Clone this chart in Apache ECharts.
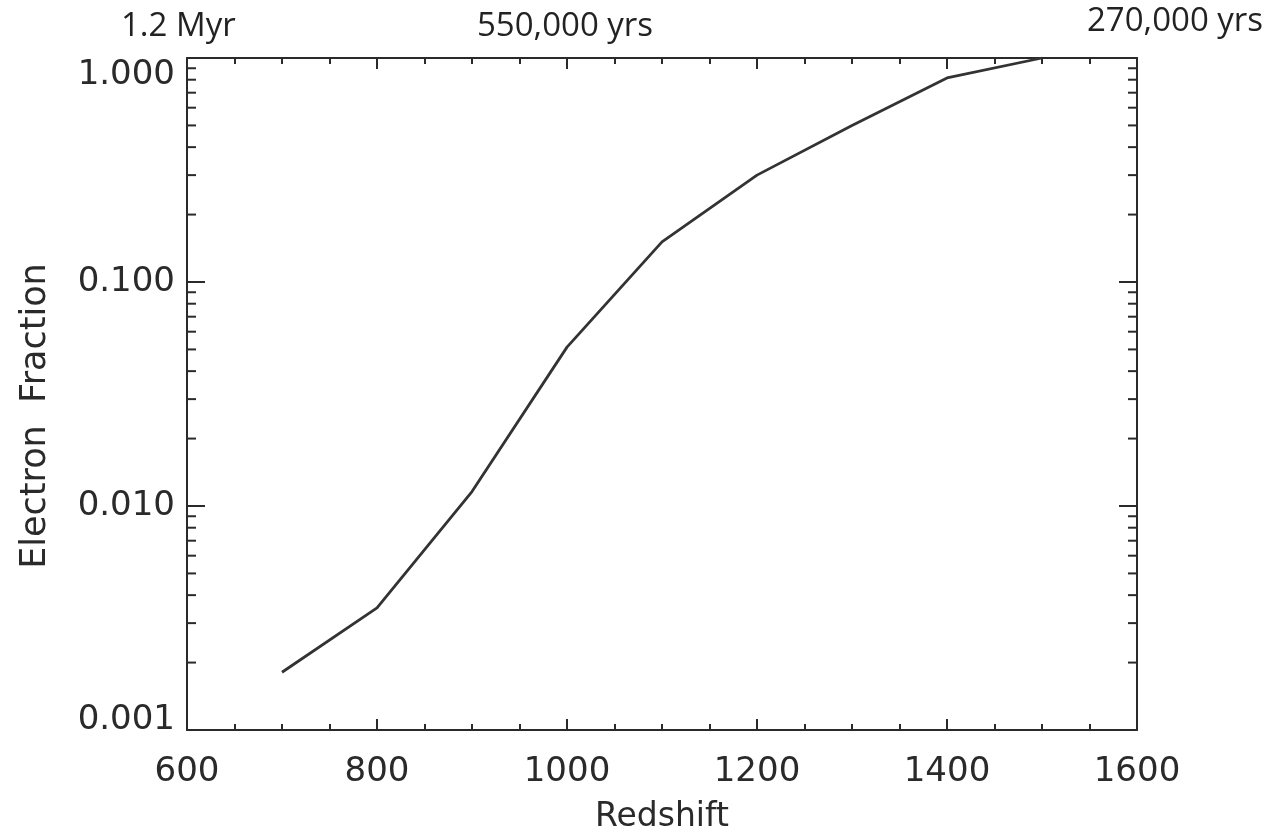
<!DOCTYPE html>
<html>
<head>
<meta charset="utf-8">
<script src="https://cdn.jsdelivr.net/npm/echarts@6/dist/echarts.min.js"></script>
<style>html,body{margin:0;padding:0;background:#fff;}#chart{width:1273px;height:833px;}</style>
</head>
<body>
<div id="chart"></div>
<script>
// Data
const redshift = [700, 800, 900, 1000, 1100, 1200, 1300, 1400, 1500];
const electronFraction = [0.00181, 0.00351, 0.0116, 0.0512, 0.151, 0.30, 0.50, 0.815, 1.0];
const xTicks = [600, 800, 1000, 1200, 1400, 1600];
const yTicks = [0.001, 0.01, 0.1, 1];
const minorYTicks = [0.002,0.003,0.004,0.005,0.006,0.007,0.008,0.009,
                     0.02,0.03,0.04,0.05,0.06,0.07,0.08,0.09,
                     0.2,0.3,0.4,0.5,0.6,0.7,0.8,0.9];
const topLabels = ['1.2 Myr', '550,000 yrs', '270,000 yrs'];

const axisFont = 'DejaVu Sans';
const ink = '#2a2a2a';

const chart = echarts.init(document.getElementById('chart'));
const xMin = xTicks[0], xMax = xTicks[xTicks.length - 1];

const xAxisCommon = {
  type: 'value', min: xMin, max: xMax, interval: 200,
  axisLine: { show: true, lineStyle: { color: ink, width: 2 } },
  axisTick: { show: true, inside: true, length: 11, lineStyle: { color: ink, width: 2 } },
  minorTick: { show: true, splitNumber: 4, length: 6, lineStyle: { color: ink, width: 2 } },
  splitLine: { show: false }, minorSplitLine: { show: false }
};
const yAxisCommon = {
  type: 'log', logBase: 10, min: yTicks[0], max: yTicks[yTicks.length - 1],
  axisLine: { show: true, lineStyle: { color: ink, width: 2 } },
  axisTick: { show: true, inside: true, length: 18, lineStyle: { color: ink, width: 2 } },
  splitLine: { show: false }
};

chart.setOption({
  animation: false,
  backgroundColor: '#fff',
  grid: { left: 187, right: 136, top: 58, bottom: 103, containLabel: false, outerBoundsMode: 'none' },
  xAxis: [
    Object.assign({}, xAxisCommon, {
      position: 'bottom',
      name: 'Redshift', nameLocation: 'middle', nameGap: 71,
      nameTextStyle: { fontFamily: axisFont, fontSize: 33, color: ink },
      axisLabel: { show: true, margin: 25, fontFamily: axisFont, fontSize: 34, color: ink,
                   formatter: v => String(v) }
    }),
    Object.assign({}, xAxisCommon, { position: 'top', axisLabel: { show: false } })
  ],
  yAxis: [
    Object.assign({}, yAxisCommon, {
      position: 'left',
      name: 'Electron  Fraction', nameLocation: 'middle', nameGap: 134,
      nameTextStyle: { fontFamily: axisFont, fontSize: 35, color: ink, padding: [0, 44, 0, 0] },
      axisLabel: {
        show: true, margin: 12, fontFamily: axisFont, fontSize: 34, color: ink,
        formatter: v => {
          const s = Number(v).toFixed(3);
          return Math.abs(v - yTicks[0]) < 1e-9 ? '{lo|' + s + '}' : s;
        },
        rich: { lo: { fontFamily: axisFont, fontSize: 34, color: ink, padding: [0, 0, 20, 0] } },
        verticalAlignMaxLabel: 'top'
      }
    }),
    Object.assign({}, yAxisCommon, { position: 'right', axisLabel: { show: false } })
  ],
  graphic: [
    { type: 'text', left: 121, top: 10, style: { text: topLabels[0], font: '33px "Open Sans"', fill: '#222' } },
    { type: 'text', left: 477, top: 10, style: { text: topLabels[1], font: '33px "Open Sans"', fill: '#222' } },
    { type: 'text', left: 1087, top: 5, style: { text: topLabels[2], font: '33px "Open Sans"', fill: '#222' } }
  ],
  series: [
    {
      type: 'line',
      data: redshift.map((x, i) => [x, electronFraction[i]]),
      xAxisIndex: 0, yAxisIndex: 0,
      showSymbol: false, symbol: 'none',
      lineStyle: { color: '#333', width: 2.8 },
      clip: true
    },
    {
      type: 'custom',
      xAxisIndex: 0, yAxisIndex: 0,
      data: minorYTicks.map(v => [xMin, v]),
      silent: true,
      clip: false,
      renderItem: function (params, api) {
        const v = api.value(1);
        const l = api.coord([xMin, v]);
        const r = api.coord([xMax, v]);
        const st = { stroke: ink, lineWidth: 2 };
        return {
          type: 'group',
          children: [
            { type: 'line', shape: { x1: l[0], y1: l[1], x2: l[0] + 9, y2: l[1] }, style: st },
            { type: 'line', shape: { x1: r[0], y1: r[1], x2: r[0] - 9, y2: r[1] }, style: st }
          ]
        };
      }
    }
  ]
});
</script>
</body>
</html>
